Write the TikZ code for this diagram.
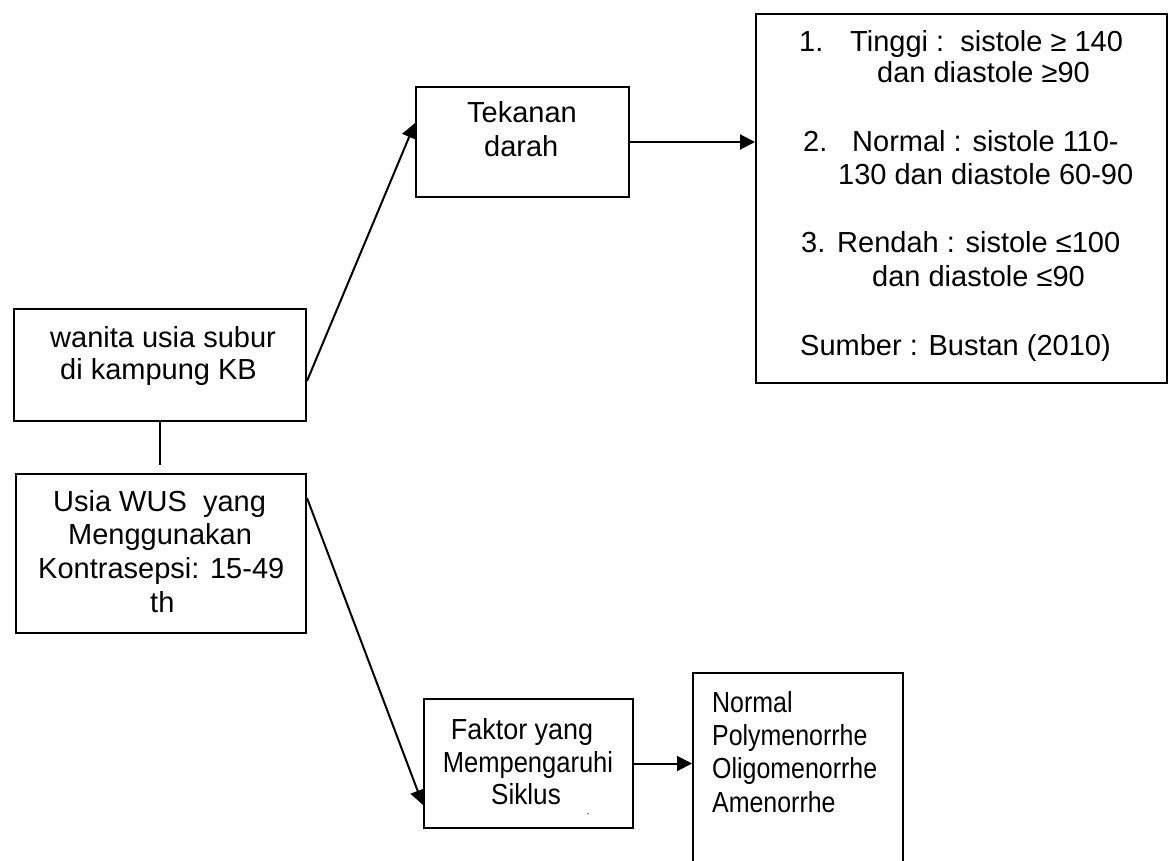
\documentclass[tikz,border=0pt]{standalone}
\usepackage{fontspec}
\setmainfont{Liberation Sans}
\usetikzlibrary{arrows.meta,calc}
\begin{document}
\begin{tikzpicture}[x=1pt,y=-1pt,
  box/.style={draw, line width=2pt, inner sep=0pt, anchor=north west},
  txt/.style={inner sep=0pt, anchor=base west, font=\fontsize{29}{33}\selectfont},
  ctxt/.style={inner sep=0pt, anchor=base, font=\fontsize{29}{33}\selectfont},
  conn/.style={line width=2pt},
  arr/.style={line width=2pt, -{Triangle[length=15pt,width=15pt]}}]
\useasboundingbox (0,0) rectangle (1172,861);
% boxes
\node[box, minimum width=213pt, minimum height=110pt] (tek) at (415,86) {};
\node[box, minimum width=411pt, minimum height=369pt] (rbox) at (755,13) {};
\node[box, minimum width=292pt, minimum height=112pt] (wus) at (13,308) {};
\node[box, minimum width=290pt, minimum height=159pt] (usia) at (15,473) {};
\node[box, minimum width=209pt, minimum height=129pt] (fak) at (423,698) {};
\node[box, minimum width=210pt, minimum height=215pt] (norm) at (692,672) {};
% texts
\node[txt] (tek1) at (467,123) {Tekanan};
\node[txt] (tek2) at (484,157) {darah};
\node[txt] (r1n) at (799,52) {1.};
\node[txt] (r1a) at (850,52) {Tinggi :\ \ sistole ≥ 140};
\node[txt] (r1b) at (877,83) {dan diastole ≥90};
\node[txt] (r2n) at (803,152) {2.};
\node[txt] (r2a) at (852,152) {Normal : sistole 110-};
\node[txt] (r2b) at (838,185) {130 dan diastole 60-90};
\node[txt] (r3n) at (801,252) {3.};
\node[txt] (r3a) at (837,252) {Rendah : sistole ≤100};
\node[txt] (r3b) at (872,286) {dan diastole ≤90};
\node[txt] (r4) at (800,355) {Sumber : Bustan (2010)};
\node[txt] (w1) at (50,347) {wanita usia subur};
\node[txt] (w2) at (60,379) {di kampung KB};
\node[txt] (u1) at (53,511) {Usia WUS\ \ yang};
\node[txt] (u2) at (68,544) {Menggunakan};
\node[txt] (u3) at (38,578) {Kontrasepsi: 15-49};
\node[txt] (u4) at (150,612) {th};
\node[ctxt] (f1) at (522,739) {\scalebox{0.93}[1]{Faktor yang}};
\node[ctxt] (f2) at (528,772) {\scalebox{0.88}[1]{Mempengaruhi}};
\node[ctxt] (f3) at (526,804) {\scalebox{0.9}[1]{Siklus}};
\node[inner sep=0pt, font=\fontsize{8}{8}\selectfont] (fdot) at (588,815) {-};
\node[txt] (n1) at (712,712) {\scalebox{0.86}[1]{Normal}};
\node[txt] (n2) at (712,745) {\scalebox{0.86}[1]{Polymenorrhe}};
\node[txt] (n3) at (712,778) {\scalebox{0.86}[1]{Oligomenorrhe}};
\node[txt] (n4) at (712,812) {\scalebox{0.86}[1]{Amenorrhe}};
% connectors
\coordinate (wend) at ($(wus.south)+(0,43)$);
\draw[conn] (wus.south) -- (wend);
\draw[arr] ([yshift=-16pt]wus.east) -- ([yshift=19pt]tek.west);
\draw[arr] (tek.east) -- (tek.east -| rbox.west);
\draw[arr] ([yshift=-25pt]usia.north east) -- ([yshift=24pt]fak.south west);
\draw[arr] (fak.east) -- (fak.east -| norm.west);
\end{tikzpicture}
\end{document}
